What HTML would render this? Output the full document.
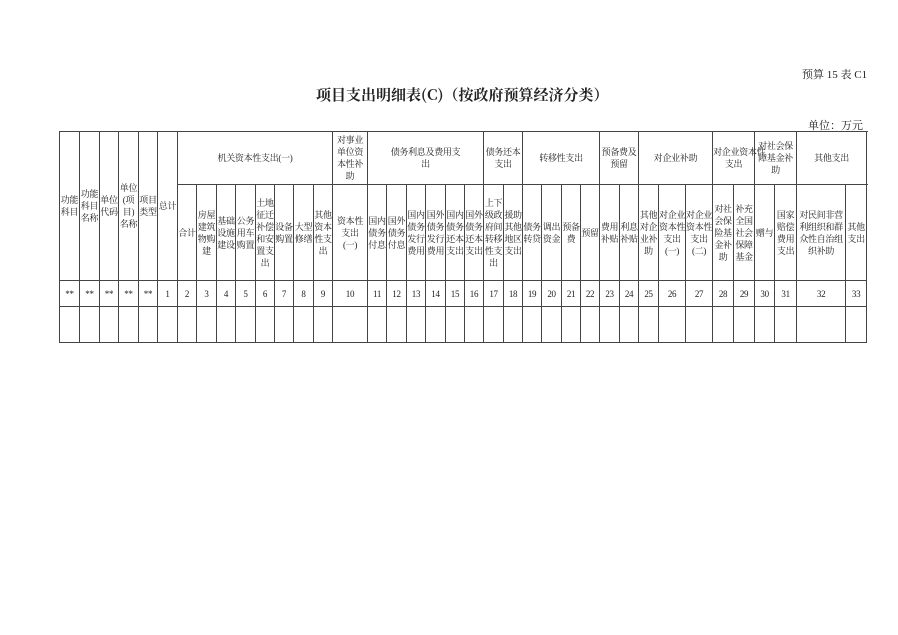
<!DOCTYPE html>
<html><head><meta charset="utf-8"><style>
body{margin:0;width:898px;height:635px;background:#fff;position:relative;font-family:"Liberation Serif","Noto Serif CJK SC","Noto Sans CJK SC",serif;color:#222;overflow:hidden}
.t{position:absolute;white-space:nowrap}
table{position:absolute;left:59px;top:131px;border-collapse:collapse;table-layout:fixed;width:807px}
td{border:1px solid #444;text-align:center;vertical-align:middle;font-size:9px;line-height:12px;padding:0;overflow:visible;white-space:nowrap;letter-spacing:-0.3px}
tr.h1{height:53px} tr.h2{height:96px} tr.n{height:26px} tr.e{height:36px}
</style></head><body>
<div class="t" style="left:802px;top:66px;font-size:11px">预算 15 表 C1</div>
<div class="t" style="left:316px;top:84px;font-size:15px;font-weight:bold;font-family:'Noto Serif CJK SC','Noto Sans CJK SC',serif">项目支出明细表(C)（按政府预算经济分类）</div>
<div class="t" style="left:808px;top:117px;font-size:11px">单位：万元</div>
<table>
<colgroup>
<col style="width:20px"><col style="width:20px"><col style="width:19px"><col style="width:20px"><col style="width:19px"><col style="width:20px">
<col style="width:19px"><col style="width:20px"><col style="width:19px"><col style="width:20px"><col style="width:19px"><col style="width:19px"><col style="width:20px"><col style="width:19px">
<col style="width:35px">
<col style="width:19px"><col style="width:20px"><col style="width:19px"><col style="width:20px"><col style="width:19px"><col style="width:19px">
<col style="width:20px"><col style="width:19px"><col style="width:19px"><col style="width:20px">
<col style="width:19px"><col style="width:19px">
<col style="width:20px"><col style="width:19px"><col style="width:20px">
<col style="width:27px"><col style="width:27px">
<col style="width:21px"><col style="width:21px">
<col style="width:20px"><col style="width:22px"><col style="width:49px"><col style="width:21px">
</colgroup>
<tr class="h1">
<td rowspan="2">功能<br>科目</td><td rowspan="2">功能<br>科目<br>名称</td><td rowspan="2">单位<br>代码</td><td rowspan="2">单位<br>(项<br>目)<br>名称</td><td rowspan="2">项目<br>类型</td><td rowspan="2">总计</td>
<td colspan="8">机关资本性支出(一)</td>
<td>对事业<br>单位资<br>本性补<br>助</td>
<td colspan="6">债务利息及费用支<br>出</td>
<td colspan="2">债务还本<br>支出</td>
<td colspan="4">转移性支出</td>
<td colspan="2">预备费及<br>预留</td>
<td colspan="3">对企业补助</td>
<td colspan="2">对企业资本性<br>支出</td>
<td colspan="2">对社会保<br>障基金补<br>助</td>
<td colspan="4">其他支出</td>
</tr>
<tr class="h2">
<td>合计</td><td>房屋<br>建筑<br>物购<br>建</td><td>基础<br>设施<br>建设</td><td>公务<br>用车<br>购置</td><td>土地<br>征迁<br>补偿<br>和安<br>置支<br>出</td><td>设备<br>购置</td><td>大型<br>修缮</td><td>其他<br>资本<br>性支<br>出</td>
<td>资本性<br>支出<br>(一)</td>
<td>国内<br>债务<br>付息</td><td>国外<br>债务<br>付息</td><td>国内<br>债务<br>发行<br>费用</td><td>国外<br>债务<br>发行<br>费用</td><td>国内<br>债务<br>还本<br>支出</td><td>国外<br>债务<br>还本<br>支出</td>
<td>上下<br>级政<br>府间<br>转移<br>性支<br>出</td><td>援助<br>其他<br>地区<br>支出</td><td>债务<br>转贷</td><td>调出<br>资金</td>
<td>预备<br>费</td><td>预留</td>
<td>费用<br>补贴</td><td>利息<br>补贴</td><td>其他<br>对企<br>业补<br>助</td>
<td>对企业<br>资本性<br>支出<br>(一)</td><td>对企业<br>资本性<br>支出<br>(二)</td>
<td>对社<br>会保<br>险基<br>金补<br>助</td><td>补充<br>全国<br>社会<br>保障<br>基金</td>
<td>赠与</td><td>国家<br>赔偿<br>费用<br>支出</td><td>对民间非营<br>利组织和群<br>众性自治组<br>织补助</td><td>其他<br>支出</td>
</tr>
<tr class="n">
<td>**</td><td>**</td><td>**</td><td>**</td><td>**</td><td>1</td><td>2</td><td>3</td><td>4</td><td>5</td><td>6</td><td>7</td><td>8</td><td>9</td><td>10</td><td>11</td><td>12</td><td>13</td><td>14</td><td>15</td><td>16</td><td>17</td><td>18</td><td>19</td><td>20</td><td>21</td><td>22</td><td>23</td><td>24</td><td>25</td><td>26</td><td>27</td><td>28</td><td>29</td><td>30</td><td>31</td><td>32</td><td>33</td>
</tr>
<tr class="e">
<td></td><td></td><td></td><td></td><td></td><td></td><td></td><td></td><td></td><td></td><td></td><td></td><td></td><td></td><td></td><td></td><td></td><td></td><td></td><td></td><td></td><td></td><td></td><td></td><td></td><td></td><td></td><td></td><td></td><td></td><td></td><td></td><td></td><td></td><td></td><td></td><td></td><td></td>
</tr>
</table>
</body></html>
